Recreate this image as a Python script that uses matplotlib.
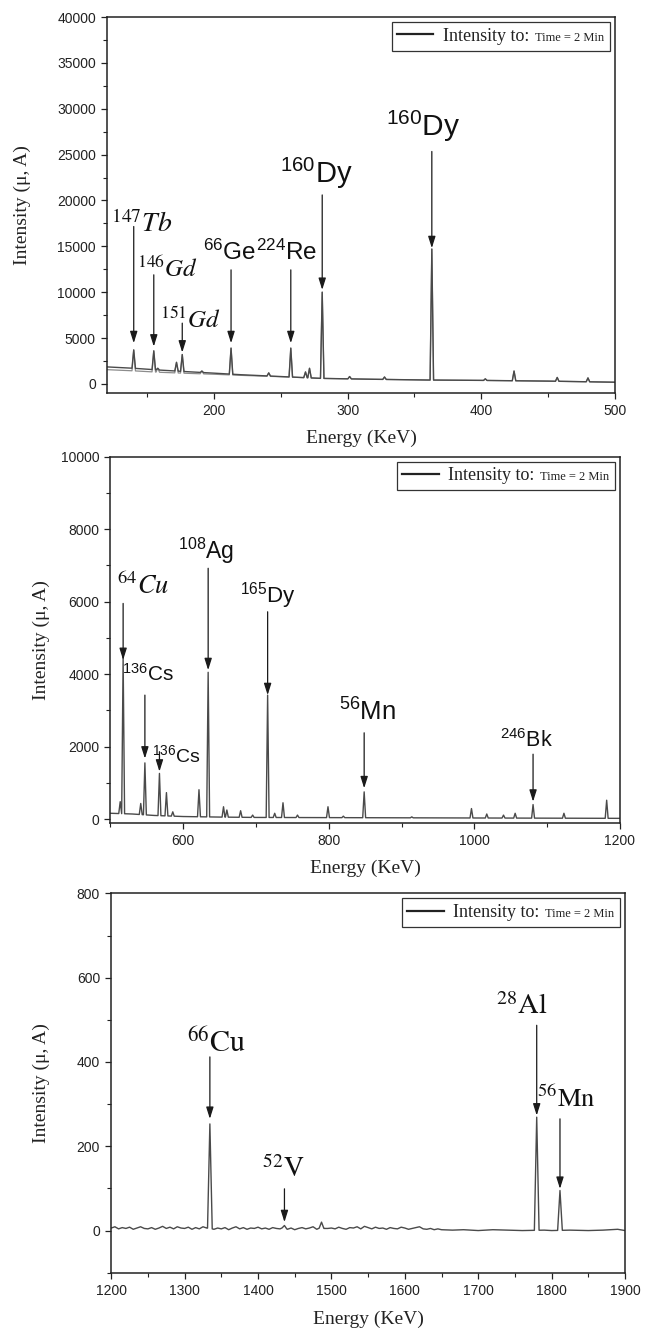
import matplotlib
matplotlib.use("Agg")
import numpy as np
import matplotlib.pyplot as plt
from matplotlib.ticker import MultipleLocator
from matplotlib.lines import Line2D
from matplotlib.offsetbox import AnchoredOffsetbox, HPacker, TextArea, DrawingArea

plt.rcParams['font.family'] = ['Liberation Sans', 'DejaVu Sans']
plt.rcParams['mathtext.fontset'] = 'custom'
plt.rcParams['mathtext.rm'] = 'Liberation Sans'
plt.rcParams['mathtext.it'] = 'Liberation Sans:italic'
plt.rcParams['mathtext.bf'] = 'Liberation Sans:bold'

# ---- panel 1 : 120-500 keV ----
p1_base_e = [120, 140, 160, 180, 200, 220, 250, 280, 320, 360, 400, 450, 500]
p1_base_h = [1850, 1700, 1500, 1330, 1170, 1000, 800, 600, 500, 420, 380, 300, 180]
# second (fainter) sweep that runs just under the first at low energy
p1_base2_h = [1550, 1420, 1260, 1150, 1050, 930, 780, 600, 500, 420, 380, 300, 180]
p1_peak_e = [140, 155, 158, 172, 176.3, 191, 212.8, 241, 257.5, 268.5, 271.5,
             281, 301.5, 327.6, 363, 403, 424.5, 456.8, 479.8]
p1_peak_h = [3700, 3600, 1700, 2350, 3200, 1400, 3900, 1200, 3900, 1300, 1700,
             10000, 800, 750, 14700, 550, 1400, 700, 650]
p1_iso = ['147', '146', '151', '66', '224', '160', '160']
p1_sym = ['Tb', 'Gd', 'Gd', 'Ge', 'Re', 'Dy', 'Dy']
p1_arrow_e = [140, 155, 176.3, 212.8, 257.5, 281, 363]
p1_arrow_from = [17160, 11890, 6620, 12430, 12430, 20600, 25340]
p1_arrow_to = [4440, 4070, 3420, 4440, 4440, 10250, 14800]

# ---- panel 2 : 500-1200 keV ----
p2_base_e = [500, 530, 560, 600, 650, 700, 800, 900, 1000, 1100, 1200]
p2_base_h = [160, 140, 100, 70, 55, 45, 40, 35, 30, 25, 20]
p2_peak_e = [513.5, 517.5, 541.7, 547.4, 567.4, 577, 585.7, 621.7, 634.3, 655.4,
             660, 678.9, 695.4, 716, 725.7, 737.1, 757, 798.9, 820, 848.6, 914,
             996, 1017, 1040, 1056, 1080.6, 1123, 1181.7]
p2_peak_h = [480, 4450, 430, 1550, 1260, 730, 200, 810, 4050, 340, 250, 230, 110,
             3420, 160, 450, 110, 340, 80, 750, 60, 290, 140, 110, 160, 400, 160, 520]
p2_iso = ['64', '136', '136', '108', '165', '56', '246']
p2_sym = ['Cu', 'Cs', 'Cs', 'Ag', 'Dy', 'Mn', 'Bk']
p2_arrow_e = [517.5, 547.4, 567.4, 634.3, 716, 848.6, 1080.6]
p2_arrow_from = [5950, 3420, 1860, 6920, 5720, 2380, 1790]
p2_arrow_to = [4390, 1670, 1310, 4110, 3420, 850, 480]

# ---- panel 3 : 1200-1900 keV ----
p3_base_e = list(range(1200, 1655, 5)) + [1665, 1680, 1700, 1720, 1740, 1760, 1790,
                                          1800, 1825, 1850, 1870, 1890, 1900]
p3_base_h = [6, 9, 4, 7, 5, 8, 3, 6, 9, 5,
             4, 7, 3, 6, 10, 5, 8, 4, 9, 6,
             5, 8, 3, 7, 4, 9, 6, 5, 3, 6,
             4, 7, 2, 6, 9, 4, 7, 3, 6, 5,
             8, 4, 6, 3, 7, 5, 4, 8, 3, 6,
             2, 5, 7, 4, 6, 9, 3, 7, 5, 5,
             6, 4, 8, 5, 3, 7, 6, 9, 4, 10,
             7, 4, 8, 5, 6, 3, 7, 5, 4, 8,
             6, 3, 5, 7, 9, 4, 3, 5, 2, 4,
             2,
             1, 2, 0, 2, 1, 0, 1, 0, 1, 0, 1, 3, 0]
p3_peak_e = [1334.4, 1436, 1486.5, 1779.7, 1811.4]
p3_peak_h = [253, 12, 20, 269, 95]
p3_iso = ['66', '52', '28', '56']
p3_sym = ['Cu', 'V', 'Al', 'Mn']
p3_arrow_e = [1334.4, 1436, 1779.7, 1811.4]
p3_arrow_from = [412, 99, 487, 265]
p3_arrow_to = [265, 20, 273, 99]

# label layout (x centre, baseline y, size, style)
p1_lab = [(146.1, 16610, 20, 'it'), (164.9, 11640, 18, 'it'), (182.7, 6140, 18, 'it'),
          (211.8, 13520, 17.5, 'sans'), (254.5, 13520, 17.5, 'sans'),
          (276.4, 21890, 21, 'sans'), (356.8, 26980, 21.5, 'sans')]
p2_lab = [(544.6, 6210, 19, 'it'), (551.4, 3820, 15, 'sans'), (591, 1560, 14, 'sans'),
          (632, 7190, 16.5, 'sans'), (717, 5970, 16, 'sans'),
          (852.6, 2730, 18.5, 'sans'), (1071, 2000, 15.5, 'sans')]
p3_lab = [(1343.5, 421, 21.5, 'rm'), (1434.8, 128, 20, 'rm'),
          (1759.8, 513, 20.5, 'rm'), (1819.4, 293, 19, 'rm')]


def trace(base_e, base_h, peak_e, peak_h, half):
    e, h = [], []
    for be, bh in zip(base_e, base_h):
        if all(abs(be - pe) >= half for pe in peak_e):
            e.append(be)
            h.append(bh)
    for pe, ph in zip(peak_e, peak_h):
        feet = np.interp([pe - half, pe + half], base_e, base_h)
        e += [pe - half, pe, pe + half]
        h += [feet[0], ph, feet[1]]
    order = np.argsort(e, kind='stable')
    return np.array(e)[order], np.array(h)[order]


def legend_box(ax):
    da = DrawingArea(26, 8, 0, 0)
    da.add_artist(Line2D([0, 26], [4.5, 4.5], color='#222222', lw=1.6))
    t1 = TextArea('Intensity to:', textprops=dict(family='Liberation Serif', size=13, color='#222222'))
    t2 = TextArea('Time = 2 Min', textprops=dict(family='Liberation Serif', size=9, color='#222222'))
    words = HPacker(children=[t1, t2], align='baseline', pad=0, sep=4)
    box = HPacker(children=[da, words], align='baseline', pad=0, sep=7)
    ab = AnchoredOffsetbox(loc='upper right', child=box, pad=0.42, borderpad=0.35,
                           frameon=True, prop=dict(size=10))
    ab.patch.set_edgecolor('#333333')
    ab.patch.set_linewidth(0.9)
    ax.add_artist(ab)


def panel(rect, base_e, base_h, peak_e, peak_h, half, iso, sym, arr_e, arr_from, arr_to,
          labs, xlim, ylim, xmaj, xmin, ymaj, ymin, ylab_x, xlab_y, base2_h=None):
    ax = fig.add_axes(rect)
    if base2_h is not None:
        e2, h2 = trace(base_e, base2_h, peak_e, peak_h, half)
        ax.plot(e2, h2, color='#8c8c8c', lw=0.9)
    e, h = trace(base_e, base_h, peak_e, peak_h, half)
    ax.plot(e, h, color='#4a4a4a', lw=1.0)
    for xa, y0, y1 in zip(arr_e, arr_from, arr_to):
        ax.annotate('', xy=(xa, y1), xytext=(xa, y0),
                    arrowprops=dict(arrowstyle='-|>,head_length=0.7,head_width=0.22',
                                    color='#1a1a1a', lw=0.9, shrinkA=0, shrinkB=0,
                                    mutation_scale=10))
    for i, s, (tx, ty, size, style) in zip(iso, sym, labs):
        if style == 'it':
            ax.text(tx, ty, r'$^{%s}%s$' % (i, s), size=size, ha='center', va='baseline',
                    math_fontfamily='stix', color='#111111')
        elif style == 'rm':
            ax.text(tx, ty, r'$^{%s}\mathrm{%s}$' % (i, s), size=size, ha='center',
                    va='baseline', math_fontfamily='stix', color='#111111')
        else:
            ax.text(tx, ty, r'$^{%s}\mathrm{%s}$' % (i, s), size=size, ha='center',
                    va='baseline', math_fontfamily='custom', color='#111111')
    ax.set_xlim(*xlim)
    ax.set_ylim(*ylim)
    ax.xaxis.set_major_locator(MultipleLocator(xmaj))
    ax.xaxis.set_minor_locator(MultipleLocator(xmin))
    ax.yaxis.set_major_locator(MultipleLocator(ymaj))
    ax.yaxis.set_minor_locator(MultipleLocator(ymin))
    ax.tick_params(which='major', direction='out', length=4.5, width=0.9, labelsize=10,
                   colors='#222222', top=False, right=False)
    ax.tick_params(which='minor', direction='out', length=2.6, width=0.8, colors='#222222',
                   top=False, right=False)
    for sp in ax.spines.values():
        sp.set_linewidth(1.1)
        sp.set_color('#222222')
    ax.set_ylabel('Intensity (μ, A)', family='Liberation Serif', size=14, color='#222222')
    ax.set_xlabel('Energy (KeV)', family='Liberation Serif', size=14, color='#222222')
    ax.yaxis.set_label_coords(ylab_x, 0.5)
    ax.xaxis.set_label_coords(0.5, xlab_y)
    legend_box(ax)
    return ax


fig = plt.figure(figsize=(6.52, 13.31), dpi=100)

panel([0.1641, 0.7047, 0.7791, 0.2825], p1_base_e, p1_base_h, p1_peak_e, p1_peak_h, 1.3,
      p1_iso, p1_sym, p1_arrow_e, p1_arrow_from, p1_arrow_to, p1_lab,
      (120, 500), (-1000, 40000), 100, 50, 5000, 2500, -0.150, -0.098, base2_h=p1_base2_h)
panel([0.1693, 0.3819, 0.7816, 0.2750], p2_base_e, p2_base_h, p2_peak_e, p2_peak_h, 2.0,
      p2_iso, p2_sym, p2_arrow_e, p2_arrow_from, p2_arrow_to, p2_lab,
      (500, 1200), (-100, 10000), 200, 100, 2000, 1000, -0.1185, -0.101)
panel([0.1706, 0.0438, 0.7880, 0.2850], p3_base_e, p3_base_h, p3_peak_e, p3_peak_h, 3.2,
      p3_iso, p3_sym, p3_arrow_e, p3_arrow_from, p3_arrow_to, p3_lab,
      (1200, 1900), (-100, 800), 100, 50, 200, 100, -0.119, -0.101)

fig.savefig('out.png', dpi=100)
